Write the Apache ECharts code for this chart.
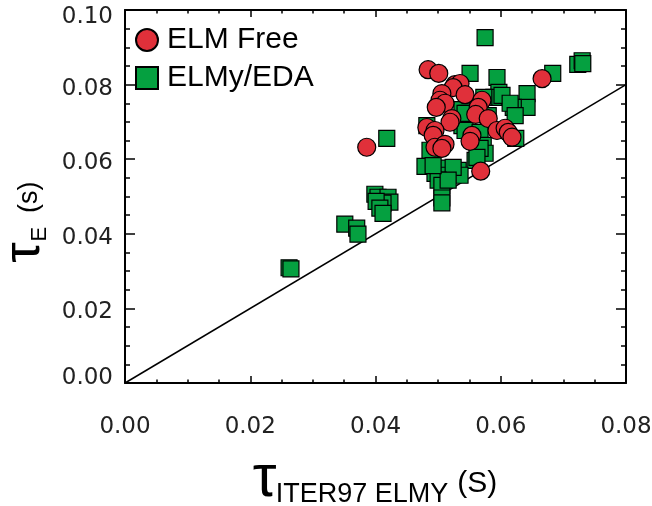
<!DOCTYPE html>
<html><head><meta charset="utf-8">
<script src="https://cdn.jsdelivr.net/npm/echarts@6/dist/echarts.min.js"></script>
<style>html,body{margin:0;padding:0;background:#fff}#c{width:652px;height:506px}</style>
</head><body><div id="c"></div>
<script>
// ELM Free (circles)
const elmFreeX = [0.0386,0.0484,0.0501,0.0527,0.0535,0.0524,0.0543,0.0506,0.0503,0.0511,0.0497,0.0570,0.0564,0.0560,0.0580,0.0522,0.0519,0.0482,0.0495,0.0492,0.0554,0.0551,0.0594,0.0607,0.0612,0.0618,0.0495,0.0511,0.0506,0.0568,0.0666];
const elmFreeY = [0.0632,0.0840,0.0830,0.0800,0.0803,0.0792,0.0773,0.0776,0.0758,0.0750,0.0739,0.0758,0.0739,0.0720,0.0709,0.0709,0.0699,0.0685,0.0677,0.0664,0.0664,0.0648,0.0677,0.0683,0.0672,0.0659,0.0632,0.0640,0.0629,0.0568,0.0816];
// ELMy/EDA (squares)
const elmyX = [0.0262,0.0265,0.0351,0.0370,0.0372,0.0399,0.0404,0.0420,0.0423,0.0412,0.0401,0.0407,0.0412,0.0418,0.0575,0.0551,0.0594,0.0683,0.0723,0.0730,0.0731,0.0597,0.0589,0.0602,0.0642,0.0642,0.0620,0.0615,0.0573,0.0538,0.0546,0.0580,0.0482,0.0538,0.0543,0.0567,0.0572,0.0575,0.0567,0.0559,0.0624,0.0487,0.0562,0.0479,0.0495,0.0503,0.0508,0.0514,0.0532,0.0535,0.0524,0.0500,0.0506,0.0516,0.0506,0.0506,0.0543,0.0623,0.0492];
const elmyY = [0.0309,0.0306,0.0426,0.0415,0.0399,0.0506,0.0498,0.0498,0.0485,0.0482,0.0487,0.0469,0.0455,0.0656,0.0926,0.0830,0.0819,0.0830,0.0854,0.0864,0.0856,0.0779,0.0766,0.0771,0.0776,0.0739,0.0739,0.0750,0.0766,0.0733,0.0723,0.0717,0.0690,0.0690,0.0677,0.0672,0.0637,0.0616,0.0629,0.0597,0.0656,0.0624,0.0605,0.0581,0.0562,0.0576,0.0552,0.0557,0.0570,0.0557,0.0578,0.0544,0.0530,0.0544,0.0496,0.0483,0.0723,0.0717,0.0583];
// reference line tau_E = tau_ITER97
const refLineX = [0.00, 0.08];
const refLineY = [0.00, 0.08];
const xTickLabels = ['0.00','0.02','0.04','0.06','0.08'];
const yTickLabels = ['0.00','0.02','0.04','0.06','0.08','0.10'];

const zip = (a, b) => a.map((v, i) => [v, b[i]]);
const chart = echarts.init(document.getElementById('c'), null, {renderer: 'canvas'});

const frameLine = {show: true, onZero: false, lineStyle: {color: '#000', width: 2}};
const labelFont = {fontFamily: 'DejaVu Sans', fontSize: 23, color: '#222'};
function xAxisCfg(pos, withLabels) {
  return {
    type: 'value', position: pos, min: 0, max: 0.08, interval: 0.02,
    axisLine: frameLine,
    axisTick: {show: true, inside: true, length: 7, lineStyle: {color: '#000', width: 1.5}},
    minorTick: {show: true, splitNumber: 4, length: 3.5, lineStyle: {color: '#000', width: 1.5}},
    splitLine: {show: false}, minorSplitLine: {show: false},
    axisLabel: Object.assign({show: withLabels, margin: 33,
      formatter: (v) => xTickLabels[Math.round(v / 0.02)]}, labelFont)
  };
}
function yAxisCfg(pos, withLabels) {
  return {
    type: 'value', position: pos, min: 0, max: 0.10, interval: 0.02,
    axisLine: frameLine,
    axisTick: {show: true, inside: true, length: 10, lineStyle: {color: '#000', width: 1.5}},
    minorTick: {show: true, splitNumber: 4, length: 5, lineStyle: {color: '#000', width: 1.5}},
    splitLine: {show: false}, minorSplitLine: {show: false},
    axisLabel: Object.assign({show: withLabels, margin: 12,
      formatter: (v) => {
        const i = Math.round(v / 0.02);
        const s = yTickLabels[i];
        return i === 0 ? '{z|' + s + '}' : (i === 5 ? '{t|' + s + '}' : '{n|' + s + '}');
      },
      rich: {
        z: Object.assign({padding: [0, 0, 10, 0]}, labelFont),
        n: Object.assign({padding: [8, 0, 0, 0]}, labelFont),
        t: Object.assign({padding: [14, 0, 0, 0]}, labelFont)
      }}, labelFont)
  };
}
const xMain = xAxisCfg('bottom', true);
xMain.name = '{t|τ}{s|ITER97 ELMY}{u|(S)}';
xMain.nameLocation = 'middle';
xMain.nameGap = 66;
xMain.nameTextStyle = {rich: {
  t: {fontFamily: 'Liberation Sans', fontSize: 60, lineHeight: 60, width: 22, color: '#000'},
  s: {fontFamily: 'Liberation Sans', fontSize: 27, lineHeight: 27, padding: [31, 0, 0, 0], color: '#000'},
  u: {fontFamily: 'Liberation Sans', fontSize: 30, lineHeight: 30, padding: [10, 0, 0, 9], color: '#000'}
}};
const yMain = yAxisCfg('left', true);
yMain.name = '{t|τ}{s|E}{u|(s)}';
yMain.nameLocation = 'middle';
yMain.nameGap = 73;
yMain.nameTextStyle = {rich: {
  t: {fontFamily: 'Liberation Sans', fontSize: 52, lineHeight: 52, width: 22, verticalAlign: 'bottom', color: '#000'},
  s: {fontFamily: 'Liberation Sans', fontSize: 22, lineHeight: 22, verticalAlign: 'bottom', color: '#000'},
  u: {fontFamily: 'Liberation Sans', fontSize: 27, lineHeight: 27, verticalAlign: 'bottom', padding: [0, 52, 8, 14], color: '#000'}
}};

chart.setOption({
  animation: false,
  backgroundColor: '#fff',
  grid: {left: 125, right: 26, top: 10, bottom: 123, containLabel: false, outerBoundsMode: 'none'},
  legend: {
    orient: 'vertical', left: 130, top: 20, itemGap: 8,
    itemWidth: 22, itemHeight: 22,
    data: [{name: 'ELM Free', icon: 'circle'}, {name: 'ELMy/EDA', icon: 'rect'}],
    textStyle: {fontFamily: 'Liberation Sans', fontSize: 30, lineHeight: 29, color: '#000', padding: [0, 0, 0, 4]}
  },
  xAxis: [xMain, xAxisCfg('top', false)],
  yAxis: [yMain, yAxisCfg('right', false)],
  series: [
    {type: 'line', data: zip(refLineX, refLineY), symbol: 'none', silent: true, z: 1,
     lineStyle: {color: '#000', width: 1.5}},
    {name: 'ELMy/EDA', type: 'scatter', data: zip(elmyX, elmyY), symbol: 'rect', symbolSize: 16, z: 2,
     itemStyle: {color: '#05A040', borderColor: '#000', borderWidth: 1.2, opacity: 1}},
    {name: 'ELM Free', type: 'scatter', data: zip(elmFreeX, elmFreeY), symbol: 'circle', symbolSize: 18, z: 3,
     itemStyle: {color: '#E0303A', borderColor: '#000', borderWidth: 1.2, opacity: 1}}
  ]
});
</script></body></html>
